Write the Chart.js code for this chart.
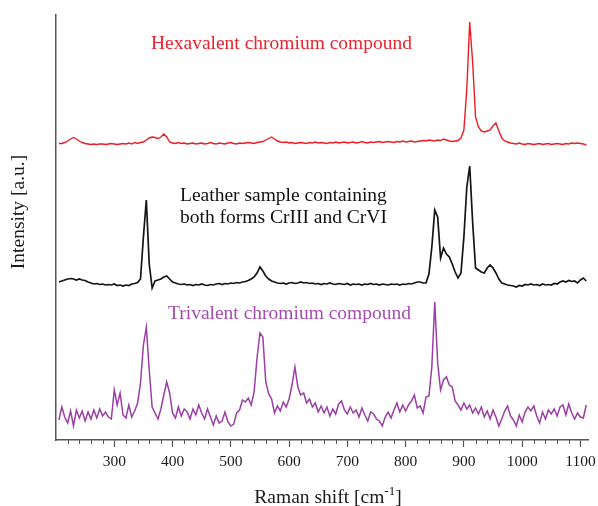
<!DOCTYPE html>
<html>
<head>
<meta charset="utf-8">
<script src="https://cdn.jsdelivr.net/npm/chart.js@4.4.1/dist/chart.umd.min.js"></script>
<style>
  html, body { margin: 0; padding: 0; background: #fff; }
  #ramanChart { display: block; }
</style>
</head>
<body>
<canvas id="ramanChart" width="598" height="506"></canvas>
<script>
// Raman shift (cm-1), one point every 5 cm-1
const ramanShift = [
  205, 210, 215, 220, 225, 230, 235, 240, 245, 250,
  255, 260, 265, 270, 275, 280, 285, 290, 295, 300,
  305, 310, 315, 320, 325, 330, 335, 340, 345, 350,
  355, 360, 365, 370, 375, 380, 385, 390, 395, 400,
  405, 410, 415, 420, 425, 430, 435, 440, 445, 450,
  455, 460, 465, 470, 475, 480, 485, 490, 495, 500,
  505, 510, 515, 520, 525, 530, 535, 540, 545, 550,
  555, 560, 565, 570, 575, 580, 585, 590, 595, 600,
  605, 610, 615, 620, 625, 630, 635, 640, 645, 650,
  655, 660, 665, 670, 675, 680, 685, 690, 695, 700,
  705, 710, 715, 720, 725, 730, 735, 740, 745, 750,
  755, 760, 765, 770, 775, 780, 785, 790, 795, 800,
  805, 810, 815, 820, 825, 830, 835, 840, 845, 850,
  855, 860, 865, 870, 875, 880, 885, 890, 895, 900,
  905, 910, 915, 920, 925, 930, 935, 940, 945, 950,
  955, 960, 965, 970, 975, 980, 985, 990, 995, 1000,
  1005, 1010, 1015, 1020, 1025, 1030, 1035, 1040, 1045, 1050,
  1055, 1060, 1065, 1070, 1075, 1080, 1085, 1090, 1095, 1100,
  1105, 1110
];

// intensities (a.u.), each relative to its own baseline
const hexavalent = [
  0.5, 0.5, 1.5, 3, 5, 6.5, 5, 3, 1.5, 0.5,
  0, -0.5, 0, -0.5, 0, 0, -0.5, 0, 0.5, 0,
  -0.5, 0, 0.5, 0, 1, 0, 1.5, 0.5, 1.5, 2,
  4, 6, 7, 6.5, 5.5, 7, 10, 7, 2, 1,
  0.5, 1.5, 0.5, 1, 0, 0.5, 1, 0, 0.5, 1,
  0, 0.5, 1.5, 0.5, 0, 1, 0.5, 0, 1, 1.5,
  0.5, 0, 1, 0.5, 1, 1.5, 1, 0.5, 1.5, 2,
  2.5, 4, 5.5, 7, 5, 3, 2, 1.5, 2, 1,
  1.5, 0.5, 1, 1.5, 1, 0.5, 1.5, 1, 2, 1,
  1.5, 1, 0.5, 1.5, 1, 2, 1, 1.5, 2, 1,
  1.5, 2, 1, 1.5, 2.5, 1.5, 1, 2, 1.5, 2,
  2.5, 1.5, 2, 2.5, 2, 1.5, 2.5, 2, 3, 2,
  2.5, 3, 2, 2.5, 3, 3.5, 3, 4, 3.5, 3,
  4, 3.5, 5, 4, 3, 2.5, 3, 3.5, 6, 14,
  55, 122, 82, 27, 17, 13, 12, 13, 14, 18,
  21, 13, 6, 3, 2, 1, 0.5, 0, 1, 0,
  -0.5, 0.5, 0, -0.5, 0, 0.5, -0.5, 0, 0.5, -0.5,
  0, 0.5, 0, -0.5, 0.5, 0, 1, 0.5, 1, 0.5,
  0, -1
];

const leather = [
  0, 1, 2, 3, 3.5, 3, 2, 3, 2, 1.5,
  0, -1, -2, -1.5, -2.5, -2, -3, -2.5, -3, -2,
  -3.5, -3, -4, -3, -3.5, -2, -1.5, -0.5, 3, 45,
  82, 18, -6, 1, 2, 3, 5, 6, 3, 0,
  -1, -2, -2.5, -2, -3, -2.5, -3.5, -2.5, -3, -2,
  -3, -3.5, -2.5, -3, -2, -1.5, -2.5, -1.5, -2, -1,
  -1.5, -0.5, -1, 0, 0.5, 1.5, 3, 5, 9, 15,
  11, 6, 3, 1, 0, -1, -1.5, -1, -2, -1,
  -0.5, -1.5, -1, 0, -1, -0.5, -1.5, -1, -2, -1.5,
  -2.5, -1.5, -2, -1, -2, -2.5, -1.5, -2, -2.5, -1.5,
  -3, -2, -2.5, -2, -3, -2, -2.5, -1.5, -2.5, -2,
  -3, -2, -2.5, -3, -2, -2.5, -2, -3, -2, -2.5,
  -1.5, -2, -1, 0, 0, -1, -1, 8, 35, 72,
  65, 24, 34, 28, 25, 18, 10, 4, 9, 45,
  95, 116, 60, 14, 12, 10, 9, 14, 17, 14,
  9, 3, -1, -2, -3, -3.5, -4, -5, -3.5, -4,
  -2.5, -3, -2, -3, -2.5, -3.5, -2, -3, -2.5, -3,
  -1.5, -2, 0, 1, 0, 1.5, 0.5, 1, -1, 2,
  4, 1
];

const trivalent = [
  -5, 8, -2, -8, 4, -11, 5, -3, 4, -6,
  3, -4, 5, -3, 6, -1, 3, -2, -4, 25,
  10, 22, 0, -3, 10, -2, 4, 12, 32, 70,
  88, 45, 8, 2, -4, 6, 20, 33, 22, 2,
  -3, 8, -1, 6, 3, -4, 6, 0, 10, 2,
  -4, 6, -2, -10, -1, -8, -6, 3, -7, -11,
  -9, 2, 5, 15, 13, 17, 10, 23, 57, 82,
  78, 33, 21, 16, 2, 9, 4, 13, 8, 16,
  30, 48, 28, 20, 22, 12, 16, 8, 12, 3,
  9, 2, 8, -1, 6, 1, 11, 14, 5, 1,
  8, 2, 5, -2, 7, 0, -6, 3, 1, -4,
  -6, -11, -2, 3, -3, 5, 12, 3, 10, 4,
  10, 14, 20, 7, 9, 2, 18, 19, 48, 113,
  52, 25, 35, 38, 30, 28, 14, 10, 5, 12,
  6, 10, 2, 7, 1, 8, -2, 4, -4, 5,
  -2, -11, -4, 4, 9, -1, -5, -11, 0, -7,
  3, 8, 4, 9, -1, -8, 3, -4, 5, 1,
  6, -1, 8, 10, 0, 11, 2, -4, 2, -2,
  -3, 10
];

const majorTicks = [300, 400, 500, 600, 700, 800, 900, 1000, 1100];

// vertical stacking of the three spectra
const hexOffset = 296;
const leatherOffset = 158;
const triOffset = 25;

const axisColor = '#555';
const textColor = '#1a1a1a';
const serif = '"Liberation Serif", "Times New Roman", serif';

const toPoints = (values, offset) => ramanShift.map((x, i) => ({ x, y: values[i] + offset }));

const textLayer = {
  id: 'textLayer',
  afterDraw(chart) {
    const { ctx, chartArea, scales: { x } } = chart;
    ctx.save();

    // minor ticks every 20 cm-1
    ctx.strokeStyle = axisColor;
    ctx.lineWidth = 1;
    for (let v = 220; v < x.max; v += 20) {
      if (v % 100 === 0) continue;
      const px = Math.round(x.getPixelForValue(v)) + 0.5;
      ctx.beginPath();
      ctx.moveTo(px, chartArea.bottom);
      ctx.lineTo(px, chartArea.bottom + 4);
      ctx.stroke();
    }

    // spectrum labels
    ctx.font = '19.5px ' + serif;
    ctx.textAlign = 'left';
    ctx.textBaseline = 'alphabetic';
    ctx.fillStyle = '#e8242e';
    ctx.fillText('Hexavalent chromium compound', 151, 49);
    ctx.fillStyle = '#111';
    ctx.fillText('Leather sample containing', 180, 201);
    ctx.fillText('both forms CrIII and CrVI', 180, 223);
    ctx.fillStyle = '#a64cb0';
    ctx.fillText('Trivalent chromium compound', 168, 319);

    // x axis title with superscript
    ctx.fillStyle = textColor;
    const main = 'Raman shift [cm';
    const sup = '-1';
    const close = ']';
    ctx.font = '19.5px ' + serif;
    const wMain = ctx.measureText(main).width;
    const wClose = ctx.measureText(close).width;
    ctx.font = '13px ' + serif;
    const wSup = ctx.measureText(sup).width;
    let tx = 328 - (wMain + wSup + wClose) / 2;
    const ty = 503;
    ctx.font = '19.5px ' + serif;
    ctx.fillText(main, tx, ty);
    tx += wMain;
    ctx.font = '13px ' + serif;
    ctx.fillText(sup, tx, ty - 8);
    tx += wSup;
    ctx.font = '19.5px ' + serif;
    ctx.fillText(close, tx, ty);

    // y axis title
    ctx.translate(24, 212);
    ctx.rotate(-Math.PI / 2);
    ctx.textAlign = 'center';
    ctx.fillText('Intensity [a.u.]', 0, 0);

    ctx.restore();
  }
};

const chart = new Chart(document.getElementById('ramanChart'), {
  type: 'line',
  data: {
    datasets: [
      { label: 'Hexavalent', data: toPoints(hexavalent, hexOffset), borderColor: '#ee1c25', borderWidth: 1.4 },
      { label: 'Leather', data: toPoints(leather, leatherOffset), borderColor: '#141414', borderWidth: 1.7 },
      { label: 'Trivalent', data: toPoints(trivalent, triOffset), borderColor: '#9b3fa6', borderWidth: 1.5 },
    ],
  },
  options: {
    responsive: false,
    animation: false,
    devicePixelRatio: 1,
    layout: { padding: { left: 56, right: 10, top: 15, bottom: 0 } },
    elements: { point: { radius: 0 }, line: { tension: 0, fill: false } },
    plugins: { legend: { display: false }, tooltip: { enabled: false } },
    scales: {
      x: {
        type: 'linear',
        min: 200,
        max: 1113,
        afterBuildTicks: axis => { axis.ticks = majorTicks.map(value => ({ value })); },
        afterFit: axis => {
          axis.height = 66;
          axis.paddingLeft = 0;
          axis.paddingRight = 0;
        },
        border: { display: true, color: axisColor, width: 1.5 },
        grid: { display: true, drawOnChartArea: false, drawTicks: true, tickLength: 7, tickColor: axisColor, tickWidth: 1.2 },
        ticks: {
          autoSkip: false,
          maxRotation: 0,
          padding: 6,
          color: textColor,
          font: { family: serif, size: 15.5 },
          callback: value => String(value),
        },
      },
      y: {
        min: 0,
        max: 425,
        afterFit: axis => { axis.width = 0; },
        border: { display: true, color: axisColor, width: 1.5 },
        grid: { display: false, drawTicks: false },
        ticks: { display: false },
      },
    },
  },
  plugins: [textLayer],
});
</script>
</body>
</html>
